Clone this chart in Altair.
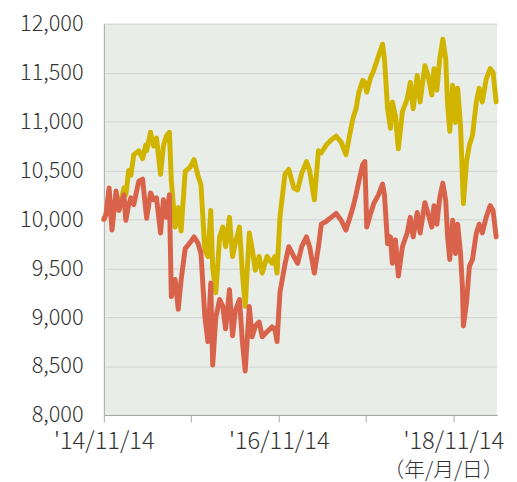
import altair as alt
import pandas as pd

dates = [
    "2014-11-14", "2014-11-23", "2014-12-06", "2014-12-18", "2015-01-04", "2015-01-16",
    "2015-02-06", "2015-02-14", "2015-02-26", "2015-03-07", "2015-03-19", "2015-04-09",
    "2015-04-25", "2015-05-08", "2015-05-12", "2015-05-28", "2015-06-10", "2015-06-22",
    "2015-07-09", "2015-07-21", "2015-08-02", "2015-08-15", "2015-08-23", "2015-09-08",
    "2015-09-21", "2015-10-03", "2015-10-20", "2015-11-09", "2015-11-26", "2015-12-12",
    "2015-12-25", "2016-01-10", "2016-01-23", "2016-02-04", "2016-02-12", "2016-02-25",
    "2016-03-12", "2016-03-25", "2016-04-06", "2016-04-22", "2016-05-05", "2016-05-17",
    "2016-06-03", "2016-06-15", "2016-06-27", "2016-07-14", "2016-07-26", "2016-08-08",
    "2016-08-24", "2016-09-06", "2016-09-26", "2016-10-17", "2016-10-29", "2016-11-07",
    "2016-11-19", "2016-12-10", "2016-12-26", "2017-01-16", "2017-02-01", "2017-02-18",
    "2017-03-10", "2017-03-23", "2017-04-12", "2017-04-29", "2017-05-11", "2017-06-01",
    "2017-06-21", "2017-07-12", "2017-08-02", "2017-08-22", "2017-09-04", "2017-09-20",
    "2017-10-03", "2017-10-15", "2017-10-31", "2017-11-09", "2017-11-17", "2017-12-03",
    "2017-12-16", "2018-01-05", "2018-01-22", "2018-01-30", "2018-02-12", "2018-02-24",
    "2018-03-04", "2018-03-17", "2018-03-29", "2018-04-15", "2018-05-05", "2018-05-18",
    "2018-05-30", "2018-06-16", "2018-06-28", "2018-07-18", "2018-07-31", "2018-08-16",
    "2018-08-25", "2018-09-06", "2018-09-18", "2018-10-01", "2018-10-13", "2018-10-21",
    "2018-10-30", "2018-11-11", "2018-11-23", "2018-12-02", "2018-12-14", "2018-12-22",
    "2018-12-26", "2019-01-08", "2019-01-20", "2019-02-02", "2019-02-18", "2019-03-02",
    "2019-03-15", "2019-03-31", "2019-04-17", "2019-04-29", "2019-05-12",
]

yellow = [
    10000, 10050, 10250, 9950, 10250, 10100,
    10320, 10250, 10500, 10450, 10660, 10700,
    10620, 10760, 10700, 10890, 10750, 10830,
    10460, 10750, 10850, 10890, 10400, 9920,
    10120, 9880, 10490, 10530, 10610, 10450,
    10350, 9690, 9620, 10090, 9500, 9250,
    9820, 9920, 9720, 10020, 9620, 9760,
    9920, 9450, 9110, 9860, 9700, 9480,
    9620, 9450, 9620, 9550, 9620, 9450,
    10020, 10460, 10510, 10320, 10300, 10470,
    10590, 10500, 10200, 10700, 10680, 10760,
    10810, 10850, 10790, 10660, 10830, 11030,
    11130, 11300, 11420, 11400, 11300, 11450,
    11520, 11670, 11790, 11640, 11130, 10930,
    11200, 11050, 10720, 11100, 11230, 11400,
    11130, 11470, 11200, 11570, 11470, 11270,
    11540, 11320, 11640, 11840, 11640, 11170,
    10900, 11370, 10990, 11340, 10960, 10400,
    10160, 10590, 10760, 10860, 11200, 11340,
    11200, 11430, 11540, 11500, 11200,
]

red = [
    10000, 10050, 10320, 9890, 10290, 10090,
    10250, 9990, 10150, 10220, 10150, 10390,
    10410, 10100, 10010, 10270, 10200, 10220,
    9860, 10200, 10020, 10250, 9210, 9385,
    9080, 9380, 9700, 9760, 9820, 9760,
    9650, 9010, 8750, 9350, 8510, 9000,
    9180, 9110, 8880, 9280, 8810, 9070,
    9180, 8750, 8450, 9110, 8800, 8910,
    8950, 8800, 8850, 8900, 8880, 8750,
    9250, 9540, 9720, 9620, 9550, 9720,
    9820, 9720, 9450, 9720, 9950, 9980,
    10020, 10060, 9990, 9890, 9990, 10120,
    10250, 10390, 10560, 10590, 9920, 10060,
    10160, 10250, 10360, 10250, 9750, 9820,
    9550, 9790, 9420, 9720, 9860, 10020,
    9820, 10070, 9860, 10170, 10060, 9920,
    10140, 9950, 10220, 10370, 10190, 9820,
    9590, 9990, 9650, 9950, 9650, 9300,
    8910, 9150, 9520, 9590, 9860, 9950,
    9860, 10020, 10140, 10090, 9820,
]

y_ticks = [8000, 8500, 9000, 9500, 10000, 10500, 11000, 11500, 12000]
x_ticks = [
    alt.DateTime(year=2014, month=11, date=14),
    alt.DateTime(year=2015, month=11, date=14),
    alt.DateTime(year=2016, month=11, date=14),
    alt.DateTime(year=2017, month=11, date=14),
    alt.DateTime(year=2018, month=11, date=14),
]
x_domain = [
    alt.DateTime(year=2014, month=11, date=14),
    alt.DateTime(year=2019, month=5, date=16),
]

df = pd.DataFrame({
    "date": dates + dates,
    "value": yellow + red,
    "series": ["yellow"] * len(dates) + ["red"] * len(dates),
})

FONT = "Noto Sans CJK JP, sans-serif"

x_enc = alt.X(
    "date:T",
    scale=alt.Scale(domain=x_domain),
    axis=alt.Axis(
        values=x_ticks,
        labelExpr="year(datum.value) % 2 == 0 ? \"'\" + timeFormat(datum.value, '%y/%m/%d') : ''",
        grid=False,
        tickSize=7,
        tickColor="#a8a8a8",
        domainColor="#a8a8a8",
        labelFontSize=24,
        labelFont=FONT,
        labelFontWeight=300,
        labelColor="#333333",
        labelPadding=8,
        labelFlush=False,
        labelOverlap=False,
        title="（年/月/日）",
        titleFont=FONT,
        titleFontSize=21,
        titleFontWeight=300,
        titleColor="#333333",
        titleAnchor="end",
        titleAlign="right",
        titleBaseline="alphabetic",
        titleX=404,
        titleY=62,
    ),
)
y_enc = alt.Y(
    "value:Q",
    scale=alt.Scale(domain=[8000, 12000], nice=False, zero=False),
    axis=alt.Axis(
        values=y_ticks,
        format=",.0f",
        ticks=False,
        labelPadding=21,
        labelFontSize=22,
        labelFont=FONT,
        labelFontWeight=300,
        labelColor="#333333",
        domainColor="#a8a8a8",
        gridColor="#d2d2d2",
        title=None,
    ),
)

base = alt.Chart(df).encode(x=x_enc, y=y_enc)

line_y = base.transform_filter(alt.datum.series == "yellow").mark_line(
    color="#d1b400", strokeWidth=5, strokeJoin="round", strokeCap="round"
)
line_r = base.transform_filter(alt.datum.series == "red").mark_line(
    color="#d9634a", strokeWidth=5, strokeJoin="round", strokeCap="round"
)

chart = (
    alt.layer(line_y, line_r)
    .properties(
        width=398,
        height=396,
        autosize=alt.AutoSizeParams(type="none"),
        padding={"left": 97, "top": 13, "right": 12, "bottom": 65},
        background="#ffffff",
    )
    .configure_view(fill="#e8ede7", stroke=None)
)

chart.save("out.html", embed_options={"renderer": "svg", "actions": False})
